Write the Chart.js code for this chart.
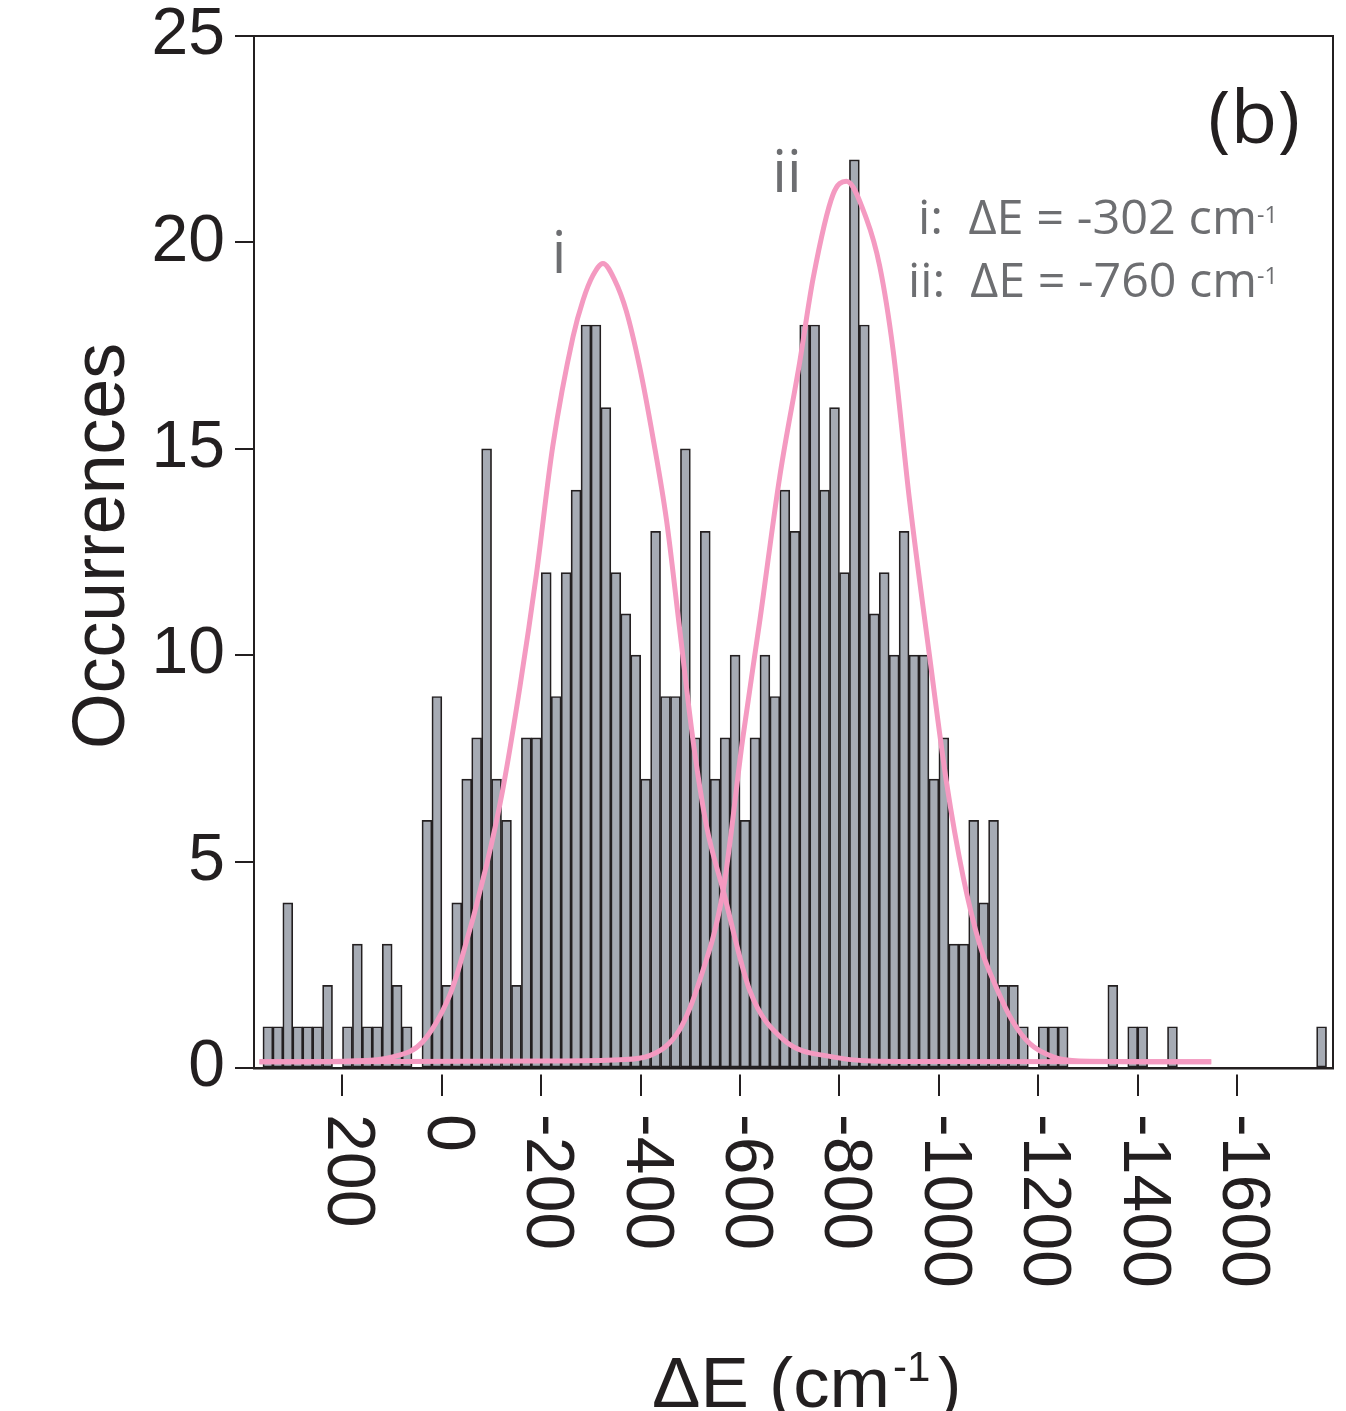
<!DOCTYPE html>
<html>
<head>
<meta charset="UTF-8">
<title>Occurrences vs ΔE</title>
<script src="https://cdn.jsdelivr.net/npm/chart.js"></script>
<style>
  body { margin: 0; background: #fff; }
  #hist { display: block; }
</style>
</head>
<body>
<canvas id="hist" width="1346" height="1411"></canvas>
<script>
// histogram bins (cm-1), 20 cm-1 wide, centres
const binCenters = [
  350, 330, 310, 290, 270, 250, 230, 210, 190, 170,
  150, 130, 110, 90, 70, 50, 30, 10, -10, -30,
  -50, -70, -90, -110, -130, -150, -170, -190, -210, -230,
  -250, -270, -290, -310, -330, -350, -370, -390, -410, -430,
  -450, -470, -490, -510, -530, -550, -570, -590, -610, -630,
  -650, -670, -690, -710, -730, -750, -770, -790, -810, -830,
  -850, -870, -890, -910, -930, -950, -970, -990, -1010, -1030,
  -1050, -1070, -1090, -1110, -1130, -1150, -1170, -1190, -1210, -1230,
  -1250, -1270, -1290, -1310, -1330, -1350, -1370, -1390, -1410, -1430,
  -1450, -1470, -1490, -1510, -1530, -1550, -1570, -1590, -1610, -1630,
  -1650, -1670, -1690, -1710, -1730, -1750, -1770
];
const counts = [
  1, 1, 4, 1, 1, 1, 2, 0, 1, 3,
  1, 1, 3, 2, 1, 0, 6, 9, 2, 4,
  7, 8, 15, 7, 6, 2, 8, 8, 12, 9,
  12, 14, 18, 18, 16, 12, 11, 10, 7, 13,
  9, 9, 15, 8, 13, 7, 8, 10, 6, 8,
  10, 9, 14, 13, 18, 18, 14, 16, 12, 22,
  18, 11, 12, 10, 13, 10, 10, 7, 8, 3,
  3, 6, 4, 6, 2, 2, 1, 0, 1, 1,
  1, 0, 0, 0, 0, 2, 0, 1, 1, 0,
  0, 1, 0, 0, 0, 0, 0, 0, 0, 0,
  0, 0, 0, 0, 0, 0, 1
];

// gaussian fits
const fitIx = [367, 186, 99, 39, -16, -36, -90, -122, -157, -190, -223, -264, -284, -304, -324,
  -348, -371, -398, -425, -452, -478, -505, -532, -566, -620, -686, -786, -920, -1548];
const fitIy = [0.15, 0.17, 0.27, 0.63, 1.77, 2.49, 4.92, 6.71, 9.23, 11.94, 15.05, 17.72, 18.6, 19.2, 19.49,
  19.08, 18.34, 16.98, 15.25, 13.27, 10.68, 7.97, 5.89, 4.3, 1.86, 0.70, 0.27, 0.16, 0.15];
const fitIIx = [367, -217, -358, -418, -478, -519, -566, -605, -640, -680, -720, -747, -787, -814,
  -854, -881, -908, -941, -981, -1015, -1049, -1082, -1116, -1149, -1183, -1230, -1283, -1548];
const fitIIy = [0.15, 0.17, 0.2, 0.3, 0.92, 2.13, 4.3, 7.95, 10.86, 14.34, 17.1, 19.13, 21.16, 21.48,
  20.58, 19.42, 17.38, 13.75, 10.0, 6.95, 4.62, 3.0, 1.94, 1.12, 0.59, 0.27, 0.17, 0.15];

const xTicks = [200, 0, -200, -400, -600, -800, -1000, -1200, -1400, -1600];
const fitLabels = ['i:  ΔE = -302 cm', 'ii:  ΔE = -760 cm'];

const ink = '#231f20';
const grey = '#6d6e71';
const pink = '#f49ac1';
const numFont = '"Liberation Sans", Arial, sans-serif';
const annFont = '"Open Sans", "Noto Sans", sans-serif';

function putText(ctx, str, x, y, o) {
  ctx.save();
  ctx.font = o.font;
  ctx.fillStyle = o.color || ink;
  ctx.textAlign = o.align || 'left';
  ctx.textBaseline = 'alphabetic';
  ctx.translate(x, y);
  if (o.rotate) ctx.rotate(o.rotate);
  if (o.width) ctx.scale(o.width / ctx.measureText(str).width, 1);
  ctx.fillText(str, 0, 0);
  ctx.restore();
}

const decorPlugin = {
  id: 'decor',
  afterDraw(chart) {
    const ctx = chart.ctx;
    const a = chart.chartArea;
    const xs = chart.scales.x;

    // frame top + right
    ctx.save();
    ctx.strokeStyle = ink;
    ctx.lineWidth = 2;
    ctx.beginPath();
    ctx.moveTo(a.left, a.top);
    ctx.lineTo(a.right, a.top);
    ctx.lineTo(a.right, a.bottom);
    ctx.stroke();
    ctx.restore();

    // x tick labels, turned clockwise
    xs.ticks.forEach(t => {
      const px = xs.getPixelForValue(t.value);
      putText(ctx, String(t.value), px - 14, a.bottom + 46,
        { font: '68px ' + numFont, rotate: Math.PI / 2 });
    });

    // axis titles
    putText(ctx, 'Occurrences', 124, 546,
      { font: '74px ' + numFont, align: 'center', rotate: -Math.PI / 2, width: 406 });
    putText(ctx, 'ΔE (cm', 652, 1407, { font: '70px ' + numFont, width: 238 });
    putText(ctx, '-1', 893, 1381, { font: '42px ' + numFont });
    putText(ctx, ')', 938, 1407, { font: '70px ' + numFont });

    // panel tag and peak labels
    putText(ctx, '(b)', 1208, 143, { font: '74px ' + annFont, width: 92 });
    putText(ctx, 'i', 559, 273, { font: '58px ' + annFont, color: grey, align: 'center' });
    putText(ctx, 'ii', 787, 192, { font: '58px ' + annFont, color: grey, align: 'center' });

    putText(ctx, fitLabels[0], 918, 234, { font: '47px ' + annFont, color: grey, width: 339 });
    putText(ctx, '-1', 1257, 223, { font: '23px ' + annFont, color: grey });
    putText(ctx, fitLabels[1], 908, 297, { font: '47px ' + annFont, color: grey, width: 349 });
    putText(ctx, '-1', 1257, 284, { font: '23px ' + annFont, color: grey });
  }
};

const toPoints = (xs, ys) => xs.map((x, i) => ({ x: x, y: ys[i] }));

new Chart(document.getElementById('hist'), {
  type: 'bar',
  data: {
    datasets: [
      {
        type: 'line', label: 'i', data: toPoints(fitIx, fitIy), order: 0,
        borderColor: pink, borderWidth: 5, pointRadius: 0, fill: false,
        cubicInterpolationMode: 'monotone'
      },
      {
        type: 'line', label: 'ii', data: toPoints(fitIIx, fitIIy), order: 0,
        borderColor: pink, borderWidth: 5, pointRadius: 0, fill: false,
        cubicInterpolationMode: 'monotone'
      },
      {
        type: 'bar', label: 'Occurrences', data: toPoints(binCenters, counts), order: 1,
        backgroundColor: '#a6abb4', borderColor: ink, borderWidth: 1.7, borderSkipped: false,
        barPercentage: 1, categoryPercentage: 1
      }
    ]
  },
  options: {
    responsive: false,
    animation: false,
    devicePixelRatio: 1,
    layout: { padding: { top: 36, right: 13, left: 0, bottom: 0 } },
    plugins: { legend: { display: false }, tooltip: { enabled: false } },
    scales: {
      x: {
        type: 'linear', reverse: true, min: -1793, max: 378, offset: false,
        afterFit: s => { s.height = 343; s.paddingLeft = 0; s.paddingRight = 0; },
        afterBuildTicks: s => { s.ticks = xTicks.map(v => ({ value: v })); },
        border: { display: true, color: ink, width: 2.5 },
        grid: {
          offset: false, drawOnChartArea: false, drawTicks: true, tickLength: 28, color: ink, lineWidth: 2,
          tickBorderDash: [24, 100], tickBorderDashOffset: 119
        },
        ticks: { display: false }
      },
      y: {
        min: 0, max: 25,
        afterFit: s => { s.width = 254; s.paddingTop = 0; s.paddingBottom = 0; },
        border: { display: true, color: ink, width: 2 },
        grid: { drawOnChartArea: false, drawTicks: true, tickLength: 19, color: ink, lineWidth: 2 },
        ticks: {
          stepSize: 5, padding: 10, color: ink,
          font: { family: numFont, size: 66, lineHeight: 1 }
        }
      }
    }
  },
  plugins: [decorPlugin]
});
</script>
</body>
</html>
